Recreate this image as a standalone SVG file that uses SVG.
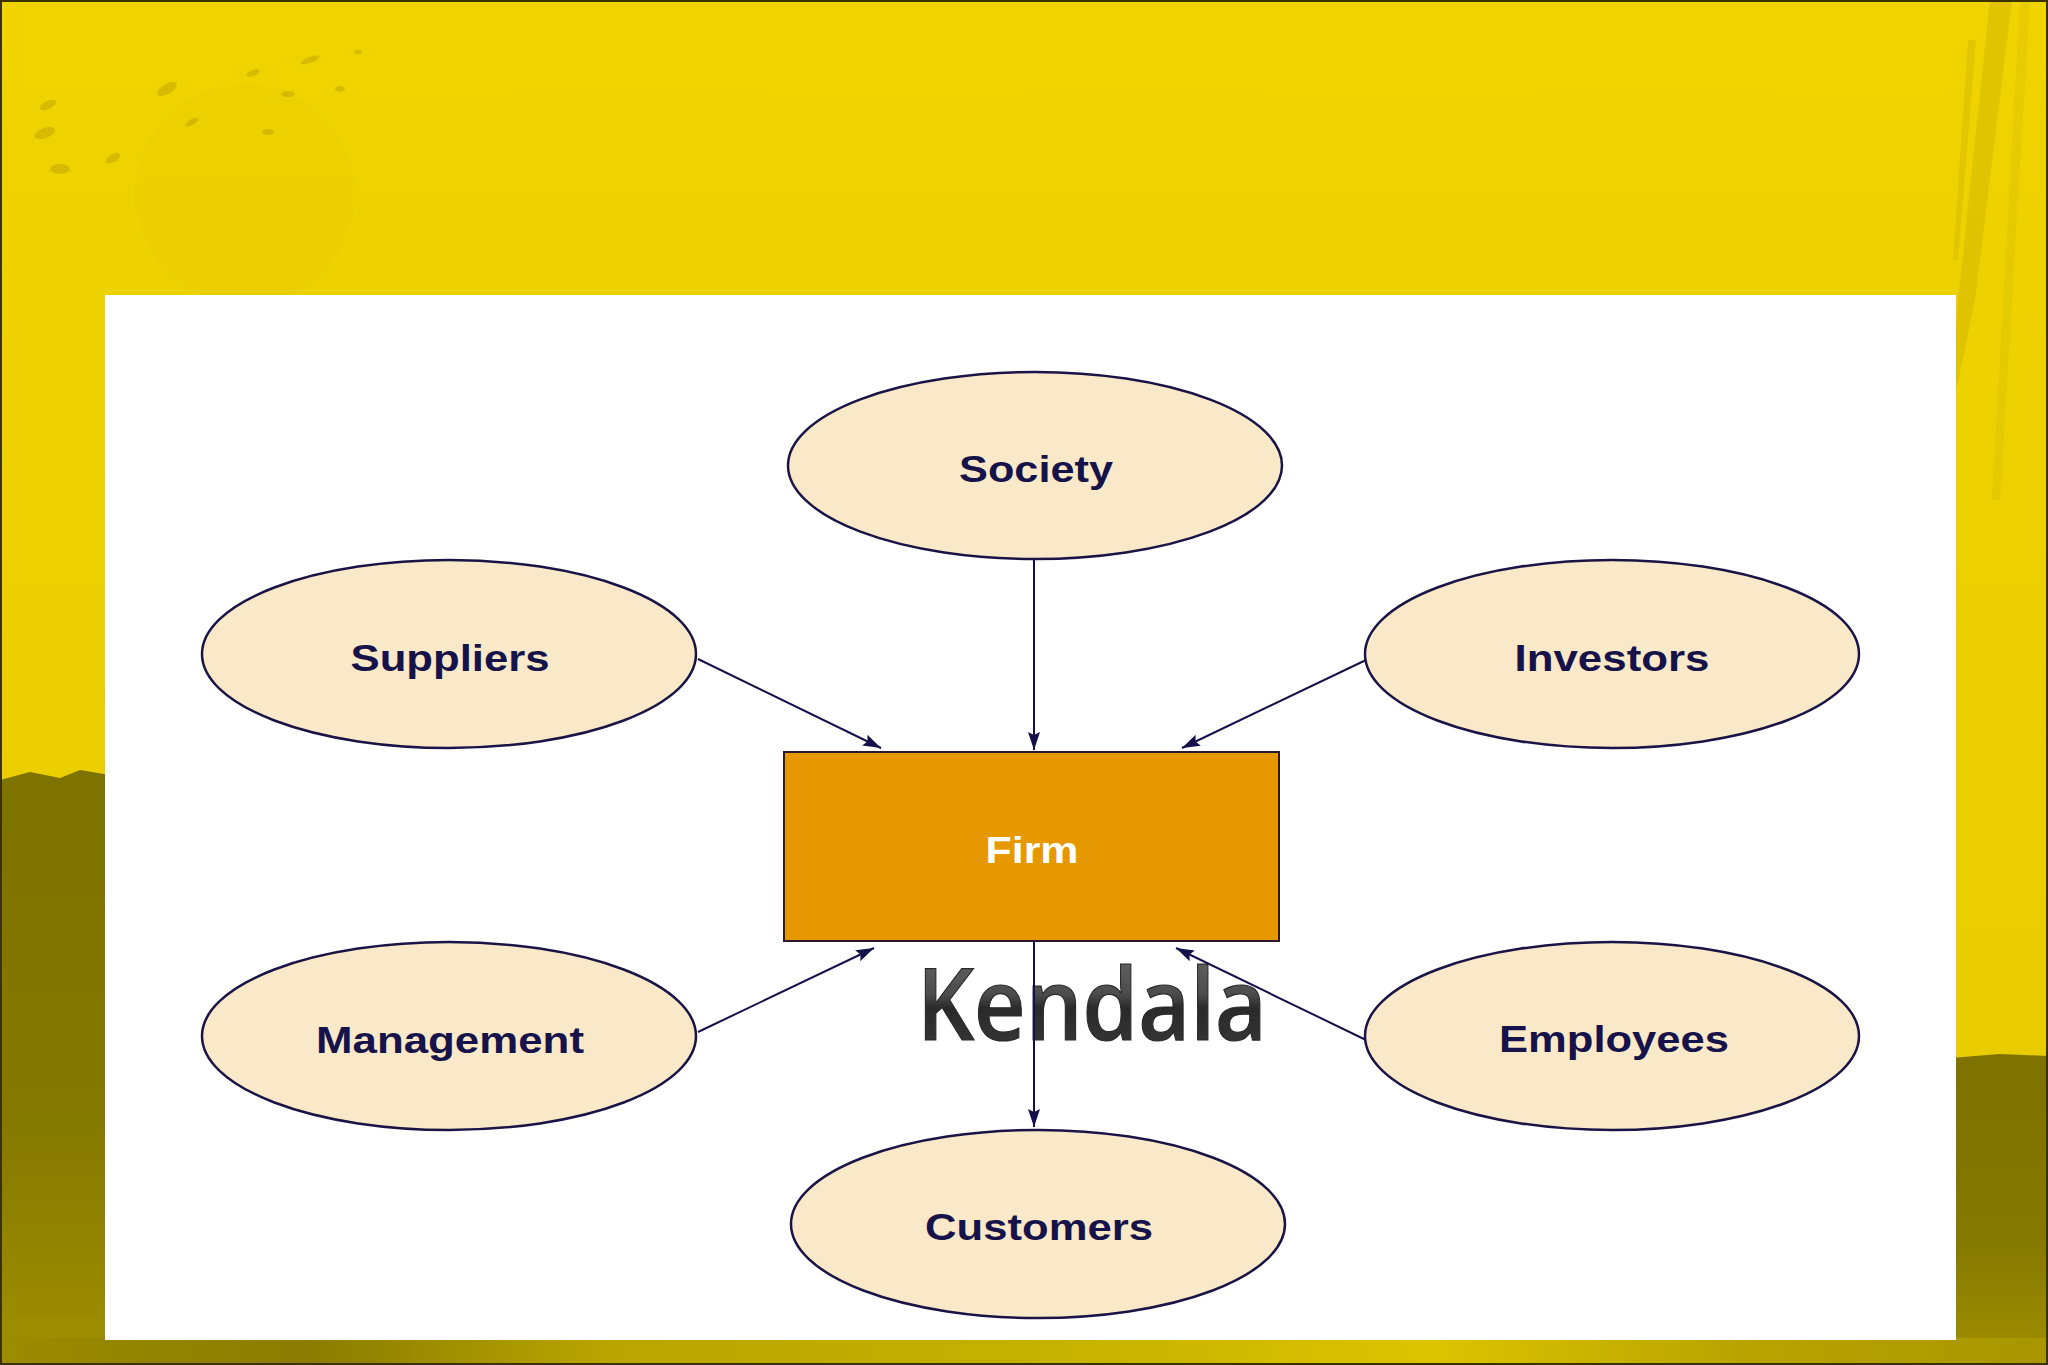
<svg xmlns="http://www.w3.org/2000/svg" width="2048" height="1365" viewBox="0 0 2048 1365">
  <defs>
    <style>
      .node ellipse { fill: #FAE9C8; stroke: #1a1446; stroke-width: 2.5; }
      .label { font-family: "Liberation Sans", Arial, sans-serif; font-weight: bold; font-size: 36px; fill: #16124a; text-anchor: middle; }
      .conn { stroke: #14104a; stroke-width: 2; fill: none; marker-end: url(#arrow); }
    </style>
    <marker id="arrow" markerUnits="userSpaceOnUse" markerWidth="20" markerHeight="14" refX="18" refY="6" orient="auto">
      <path d="M0,0 L18,6 L0,12 L3,6 z" fill="#14104a"/>
    </marker>
    <linearGradient id="bgY" x1="0" y1="0" x2="0" y2="1">
      <stop offset="0" stop-color="#F0D400"/>
      <stop offset="1" stop-color="#E6CA00"/>
    </linearGradient>
    <linearGradient id="olive" x1="0" y1="0" x2="0" y2="1">
      <stop offset="0" stop-color="#7E7200"/>
      <stop offset="0.6" stop-color="#857900"/>
      <stop offset="1" stop-color="#A09000"/>
    </linearGradient>
    <linearGradient id="band" x1="0" y1="0" x2="1" y2="0">
      <stop offset="0" stop-color="#9C8C00"/>
      <stop offset="0.15" stop-color="#8A7C00"/>
      <stop offset="0.3" stop-color="#B9A600"/>
      <stop offset="0.5" stop-color="#C4B000"/>
      <stop offset="0.7" stop-color="#DCC400"/>
      <stop offset="0.85" stop-color="#B8A400"/>
      <stop offset="1" stop-color="#A89600"/>
    </linearGradient>
    <linearGradient id="kGrad" x1="0" y1="0" x2="0" y2="1">
      <stop offset="0" stop-color="#707070"/>
      <stop offset="0.45" stop-color="#4c4c4c"/>
      <stop offset="0.55" stop-color="#2a2a2a"/>
      <stop offset="1" stop-color="#3c3c3c"/>
    </linearGradient>
  </defs>

  <!-- background -->
  <rect x="0" y="0" width="2048" height="1365" fill="url(#bgY)"/>
  <circle cx="245" cy="195" r="110" fill="#DCC000" opacity="0.18"/>
  <g fill="#C9AE00" opacity="0.65">
    <ellipse cx="48" cy="105" rx="9" ry="4" transform="rotate(-25 48 105)"/>
    <ellipse cx="45" cy="133" rx="11" ry="5" transform="rotate(-20 45 133)"/>
    <ellipse cx="60" cy="169" rx="10" ry="5"/>
    <ellipse cx="167" cy="89" rx="11" ry="5" transform="rotate(-30 167 89)"/>
    <ellipse cx="113" cy="158" rx="8" ry="4" transform="rotate(-30 113 158)"/>
    <ellipse cx="192" cy="122" rx="7" ry="3" transform="rotate(-30 192 122)"/>
    <ellipse cx="253" cy="73" rx="7" ry="3" transform="rotate(-20 253 73)"/>
    <ellipse cx="310" cy="60" rx="10" ry="3" transform="rotate(-20 310 60)"/>
    <ellipse cx="288" cy="94" rx="7" ry="3"/>
    <ellipse cx="268" cy="132" rx="6" ry="3"/>
    <ellipse cx="340" cy="89" rx="5" ry="3"/>
    <ellipse cx="358" cy="52" rx="4" ry="2"/>
  </g>
  <path d="M1990,0 L2012,0 L1975,300 L1950,420 L1958,300 Z" fill="#CDB200" opacity="0.45"/>
  <path d="M1968,40 L1976,40 L1958,260 L1953,260 Z" fill="#C2A800" opacity="0.3"/>
  <path d="M2020,0 L2030,0 L2000,500 L1992,500 Z" fill="#D2B800" opacity="0.3"/>
  <path d="M0,780 L30,772 L60,778 L80,770 L110,775 L110,1365 L0,1365 Z" fill="url(#olive)"/>
  <path d="M1950,1058 L2000,1054 L2048,1056 L2048,1365 L1950,1365 Z" fill="url(#olive)"/>
  <rect x="0" y="1338" width="2048" height="27" fill="url(#band)"/>
  <rect x="1" y="1" width="2046" height="1363" fill="none" stroke="#3a3200" stroke-width="2"/>

  <!-- white panel -->
  <rect x="105" y="295" width="1851" height="1045" fill="#FFFFFF"/>

  <!-- watermark -->
  <text x="1092" y="1040" font-family="Open Sans, Noto Sans, sans-serif" font-weight="600" font-size="100" text-anchor="middle" textLength="350" lengthAdjust="spacingAndGlyphs" fill="url(#kGrad)" stroke="#2a2a2a" stroke-width="1.2">Kendala</text>

  <!-- connectors -->
  <g id="connectors">
    <line class="conn" x1="1034" y1="559" x2="1034" y2="750"/>
    <line class="conn" x1="698" y1="659" x2="881" y2="748"/>
    <line class="conn" x1="1366" y1="660" x2="1182" y2="748"/>
    <line class="conn" x1="698" y1="1032" x2="874" y2="948"/>
    <line class="conn" x1="1366" y1="1040" x2="1176" y2="948"/>
    <line class="conn" x1="1034" y1="941" x2="1034" y2="1127"/>
  </g>

  <!-- nodes -->
  <g id="society" class="node">
    <ellipse cx="1035" cy="465.5" rx="247" ry="93.5"/>
    <text class="label" x="1036" y="482" textLength="154" lengthAdjust="spacingAndGlyphs">Society</text>
  </g>
  <g id="suppliers" class="node">
    <ellipse cx="449" cy="654" rx="247" ry="94"/>
    <text class="label" x="450" y="671" textLength="199" lengthAdjust="spacingAndGlyphs">Suppliers</text>
  </g>
  <g id="investors" class="node">
    <ellipse cx="1612" cy="654" rx="247" ry="94"/>
    <text class="label" x="1612" y="671" textLength="195" lengthAdjust="spacingAndGlyphs">Investors</text>
  </g>
  <g id="firm">
    <rect x="784" y="752" width="495" height="189" fill="#E59800" stroke="#2a1a30" stroke-width="2"/>
    <text class="label" x="1032" y="863" textLength="93" lengthAdjust="spacingAndGlyphs" style="fill:#FFFFFF">Firm</text>
  </g>
  <g id="management" class="node">
    <ellipse cx="449" cy="1036" rx="247" ry="94"/>
    <text class="label" x="450" y="1053" textLength="268" lengthAdjust="spacingAndGlyphs">Management</text>
  </g>
  <g id="employees" class="node">
    <ellipse cx="1612" cy="1036" rx="247" ry="94"/>
    <text class="label" x="1614" y="1052" textLength="230" lengthAdjust="spacingAndGlyphs">Employees</text>
  </g>
  <g id="customers" class="node">
    <ellipse cx="1038" cy="1224" rx="247" ry="94"/>
    <text class="label" x="1039" y="1240" textLength="228" lengthAdjust="spacingAndGlyphs">Customers</text>
  </g>
</svg>
